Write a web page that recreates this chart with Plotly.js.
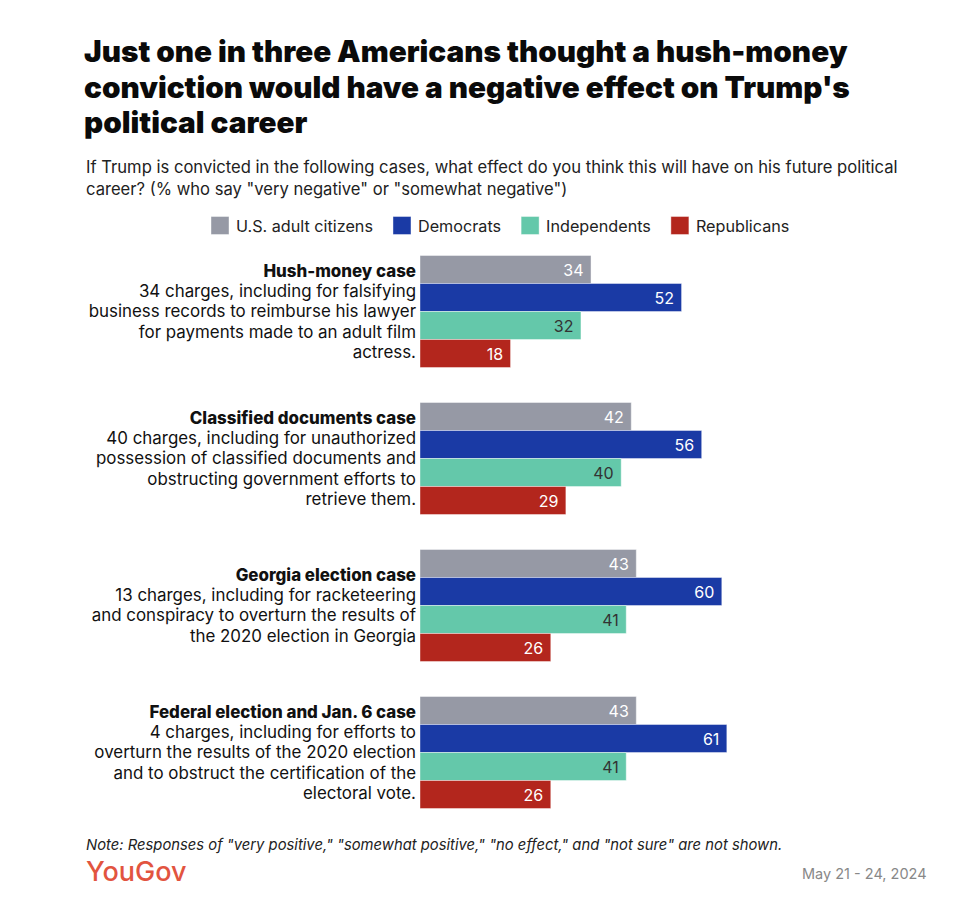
<!DOCTYPE html>
<html>
<head>
<meta charset="utf-8">
<script src="https://cdn.plot.ly/plotly-3.0.1.min.js"></script>
<style>html,body{margin:0;padding:0;background:#fff;}#chart{width:960px;height:914px;}</style>
</head>
<body>
<div id="chart"></div>
<script>
const caseTitles = ["Hush-money case", "Classified documents case", "Georgia election case", "Federal election and Jan. 6 case"];
const caseDescriptions = [
  "34 charges, including for falsifying<br>business records to reimburse his lawyer<br>for payments made to an adult film<br>actress.",
  "40 charges, including for unauthorized<br>possession of classified documents and<br>obstructing government efforts to<br>retrieve them.",
  "13 charges, including for racketeering<br>and conspiracy to overturn the results of<br>the 2020 election in Georgia",
  "4 charges, including for efforts to<br>overturn the results of the 2020 election<br>and to obstruct the certification of the<br>electoral vote."
];
const seriesNames = ["U.S. adult citizens", "Democrats", "Independents", "Republicans"];
const usAdults = [34, 42, 43, 43];
const democrats = [52, 56, 60, 61];
const independents = [32, 40, 41, 41];
const republicans = [18, 29, 26, 26];

const colors = ["#9699a5", "#1a3aa5", "#64c8aa", "#b3261d"];
const textColors = ["#ffffff", "#ffffff", "#333333", "#ffffff"];
const values = [usAdults, democrats, independents, republicans];

const caseLabels = caseTitles.map((t, i) =>
  '<span style="font-weight:800">' + t + '</span><br>' + caseDescriptions[i]);

const FONT = "Inter, Roboto, sans-serif";

const traces = values.map((v, i) => ({
  type: "bar",
  orientation: "h",
  name: seriesNames[i],
  y: caseLabels,
  x: v,
  marker: {color: colors[i], line: {color: "rgba(255,255,255,0.7)", width: 0.6}},
  text: v.map(String),
  texttemplate: "%{text}\u00a0",
  textposition: "inside",
  insidetextanchor: "end",
  textangle: 0,
  constraintext: "none",
  textfont: {family: FONT, size: 16, color: textColors[i]},
  hoverinfo: "skip",
  cliponaxis: false
}));

const W = 960, H = 914;
const L = 420, R = 37, T = 238, B = 88;
const pw = W - L - R, ph = H - T - B;
const px2x = p => (p - L) / pw;
const py2y = p => (H - B - p) / ph;

const layout = {
  width: W, height: H,
  margin: {l: L, r: R, t: T, b: B, pad: 0, autoexpand: false},
  paper_bgcolor: "#ffffff",
  plot_bgcolor: "#ffffff",
  barmode: "group",
  bargap: 35/147,
  bargroupgap: 0,
  title: {
    text: "Just one in three Americans thought a hush-money<br>conviction would have a negative effect on Trump's<br>political career",
    font: {family: FONT, size: 29.7, weight: 900, color: "#0a0a0a"},
    x: 84 / W, xref: "container", xanchor: "left",
    y: 1 - 62 / H, yref: "container", yanchor: "top"
  },
  showlegend: true,
  legend: {
    orientation: "h",
    xref: "paper", x: px2x(196), xanchor: "left",
    yref: "paper", y: py2y(226), yanchor: "middle",
    font: {family: FONT, size: 16.2, color: "#222222"},
    traceorder: "normal",
    itemclick: false, itemdoubleclick: false
  },
  xaxis: {
    range: [0, 100], visible: false, showgrid: false, zeroline: false, fixedrange: true
  },
  yaxis: {
    type: "category",
    autorange: "reversed",
    showgrid: false, zeroline: false, showline: false,
    ticks: "",
    ticklabelstandoff: 3,
    tickfont: {family: FONT, size: 16.9, color: "#111111"},
    fixedrange: true
  },
  annotations: [
    {
      text: "If Trump is convicted in the following cases, what effect do you think this will have on his future political<br>career? (% who say \"very negative\" or \"somewhat negative\")",
      xref: "paper", yref: "paper", x: px2x(84), y: py2y(155),
      xanchor: "left", yanchor: "top", align: "left", showarrow: false,
      font: {family: FONT, size: 16.6, color: "#222222"}
    },
    {
      text: "<i>Note: Responses of \"very positive,\" \"somewhat positive,\" \"no effect,\" and \"not sure\" are not shown.</i>",
      xref: "paper", yref: "paper", x: px2x(84), y: py2y(845),
      xanchor: "left", yanchor: "middle", align: "left", showarrow: false,
      font: {family: FONT, size: 14.8, color: "#222222"}
    },
    {
      text: "YouGov",
      xref: "paper", yref: "paper", x: px2x(84), y: py2y(871),
      xanchor: "left", yanchor: "middle", align: "left", showarrow: false,
      font: {family: FONT, size: 27, weight: 500, color: "#e2543f"}
    },
    {
      text: "May 21 - 24, 2024",
      xref: "paper", yref: "paper", x: px2x(929), y: py2y(873),
      xanchor: "right", yanchor: "middle", align: "right", showarrow: false,
      font: {family: FONT, size: 14.5, color: "#888888"}
    }
  ]
};

function tightenLines(textEl, k) {
  const lines = textEl.querySelectorAll("tspan.line");
  const n = lines.length;
  const offset = (n - 1) * (1.3 - k) / 2;
  lines.forEach((t, i) => t.setAttribute("dy", (i * k + offset) + "em"));
}

Plotly.newPlot("chart", traces, layout, {displayModeBar: false, staticPlot: true}).then(gd => {
  // slightly tighter title line pitch, first line kept in place
  gd.querySelectorAll(".gtitle tspan.line").forEach((t, i) => t.setAttribute("dy", (i * 1.2) + "em"));
  // tighter category label line pitch, block stays centred on its group
  gd.querySelectorAll(".ytick text").forEach(t => tightenLines(t, 1.19));
  // larger square legend swatches, set closer to their texts
  gd.querySelectorAll(".legendpoints path").forEach(p => p.setAttribute("d", "M13,9H-5V-9H13Z"));
});
</script>
</body>
</html>
